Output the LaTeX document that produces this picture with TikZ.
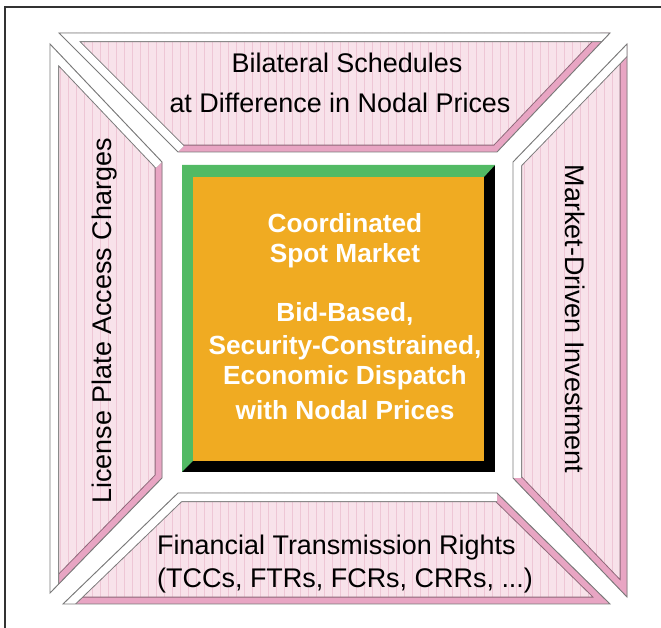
\documentclass[tikz,border=0pt]{standalone}
\usepackage{fontspec}
\setmainfont{Liberation Sans}

\definecolor{facepink}{HTML}{F8E2EA}
\definecolor{stripepink}{HTML}{EEC6D5}
\definecolor{rimpink}{HTML}{E8A5C3}
\definecolor{rimdark}{HTML}{8C6878}
\definecolor{rimgray}{HTML}{7A7A7A}
\definecolor{spotorange}{HTML}{F0AB22}
\definecolor{bevelgreen}{HTML}{52BA64}

\tikzset{
  panel/.style={fill=facepink},
  stripe/.style={draw=stripepink, line width=0.7pt},
  litrim/.style={draw=rimgray, line width=0.8pt, double=white, double distance=14pt, line join=miter},
  shaderim/.style={draw=rimdark, line width=0.8pt, double=rimpink, double distance=11pt, line join=miter},
  rimedge/.style={draw=rimgray, line width=0.8pt, line join=miter},
  paneltext/.style={font=\fontsize{23}{28}\selectfont, inner sep=0pt, anchor=base},
  spottext/.style={text=white, font=\bfseries\fontsize{22.4}{27}\selectfont, inner sep=0pt, anchor=base}
}

\begin{document}
\begin{tikzpicture}[x=0.03cm, y=-0.03cm]
	\useasboundingbox (0,0) rectangle (661,628);
	\draw[line width=1.6pt, black!80] (661,7) -- (5,7) -- (5,628);

	% panel corners: 1-2 outer/top side, 3-4 the other side
	\coordinate (t1) at (59,33);
	\coordinate (t2) at (610,33);
	\coordinate (t3) at (497,152);
	\coordinate (t4) at (178,152);
	\coordinate (l1) at (50,44);
	\coordinate (l2) at (162,162);
	\coordinate (l3) at (162,478);
	\coordinate (l4) at (50,593);
	\coordinate (r1) at (513,162);
	\coordinate (r2) at (627,44);
	\coordinate (r3) at (627,597);
	\coordinate (r4) at (513,478);
	\coordinate (b1) at (178,493);
	\coordinate (b2) at (497,493);
	\coordinate (b3) at (610,604);
	\coordinate (b4) at (63,604);

	\foreach \p in {t,l,r,b}{
		\begin{scope}
			\clip (\p1) -- (\p2) -- (\p3) -- (\p4) -- cycle;
			\fill[panel] (\p1) -- (\p2) -- (\p3) -- (\p4) -- cycle;
			\foreach \x in {44,52,...,636}
				\draw[stripe] (\x,30) -- (\x,610);
			\draw[shaderim] (\p2) -- (\p3) -- (\p4);
			\draw[litrim] (\p4) -- (\p1) -- (\p2);
		\end{scope}
		\draw[rimedge] (\p1) -- (\p2) -- (\p3) -- (\p4) -- cycle;
	}

	% bevelled box in the middle
	\coordinate (s1) at (182,165);
	\coordinate (s2) at (495,472);
	\fill[black] (s1) rectangle (s2);
	\fill[bevelgreen] (182,165) -- (495,165) -- (484,177) -- (193,177) -- (193,461) -- (182,472) -- cycle;
	\fill[spotorange] (193,177) rectangle (484,461);

	\node[spottext] (spot1) at (345,233) {Coordinated};
	\node[spottext] (spot2) at (345,263) {Spot Market};
	\node[spottext] (spot3) at (345,322) {Bid-Based,};
	\node[spottext] (spot4) at (345,355) {Security-Constrained,};
	\node[spottext] (spot5) at (345,385) {Economic Dispatch};
	\node[spottext] (spot6) at (345,420) {with Nodal Prices};

	\node[paneltext] (bilat1) at (347,73) {Bilateral Schedules};
	\node[paneltext] (bilat2) at (340,113) {at Difference in Nodal Prices};
	\node[paneltext, anchor=base west] (ftr1) at (157,555) {Financial Transmission Rights};
	\node[paneltext, anchor=base west] (ftr2) at (157,588) {(TCCs, FTRs, FCRs, CRRs, ...)};
	\node[paneltext, rotate=90] (access) at (111,321) {License Plate Access Charges};
	\node[paneltext, rotate=-90] (invest) at (565,319) {Market-Driven Investment};
\end{tikzpicture}
\end{document}
